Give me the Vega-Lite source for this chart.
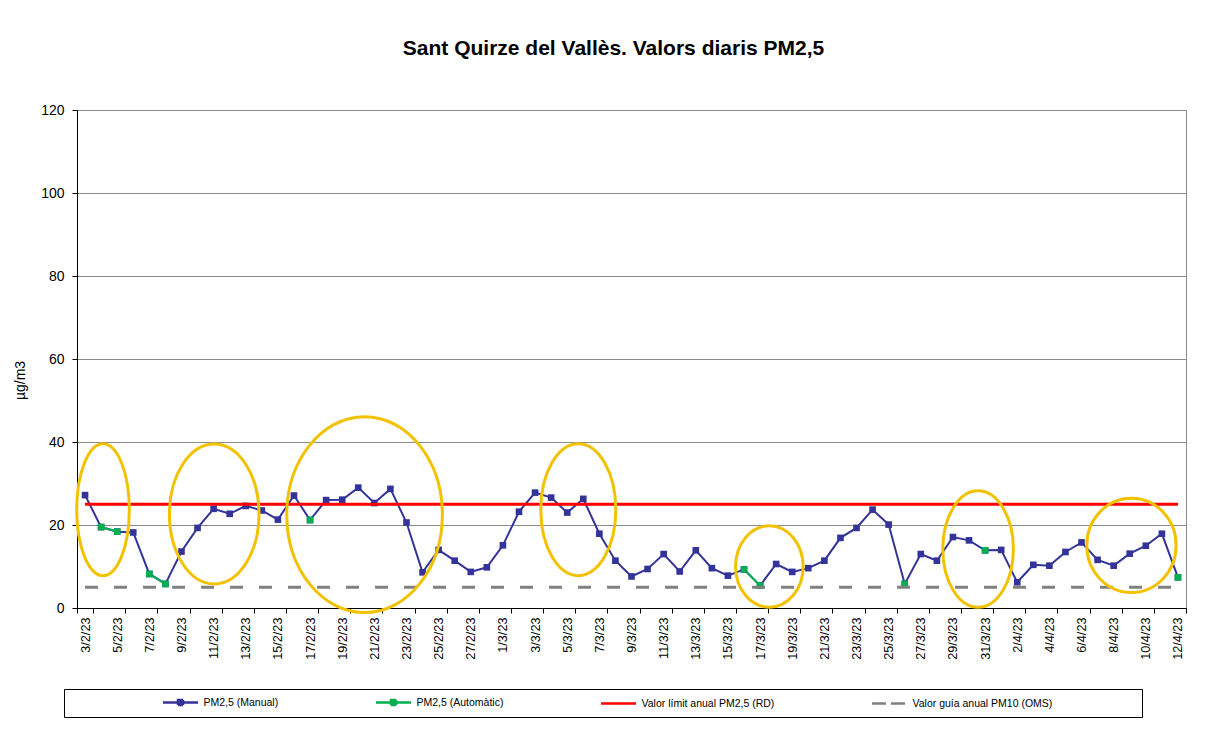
{
  "$schema": "https://vega.github.io/schema/vega-lite/v6.json",
  "width": 1109,
  "height": 498,
  "autosize": {"type": "none"},
  "padding": {"left": 77, "top": 110, "right": 26, "bottom": 130},
  "background": "white",
  "title": {"text": "Sant Quirze del Vallès. Valors diaris PM2,5", "font": "Liberation Sans", "fontSize": 21, "fontWeight": "bold", "color": "#000000", "anchor": "middle", "dx": -18, "offset": 44},
  "config": {
    "view": {"stroke": "#8a8a8a", "strokeWidth": 1},
    "axis": {"labelFont": "Liberation Sans", "titleFont": "Liberation Sans", "labelColor": "#000000", "titleColor": "#000000", "domainColor": "#000000", "tickColor": "#000000"}
  },
  "datasets": {
    "pm": [
      {"date": "3/2/23", "manual": 27.2, "automatic": null},
      {"date": "4/2/23", "manual": 19.5, "automatic": 19.5},
      {"date": "5/2/23", "manual": 18.4, "automatic": 18.4},
      {"date": "6/2/23", "manual": 18.2, "automatic": null},
      {"date": "7/2/23", "manual": 8.2, "automatic": 8.2},
      {"date": "8/2/23", "manual": 5.8, "automatic": 5.8},
      {"date": "9/2/23", "manual": 13.6, "automatic": null},
      {"date": "10/2/23", "manual": 19.3, "automatic": null},
      {"date": "11/2/23", "manual": 23.9, "automatic": null},
      {"date": "12/2/23", "manual": 22.7, "automatic": null},
      {"date": "13/2/23", "manual": 24.6, "automatic": null},
      {"date": "14/2/23", "manual": 23.5, "automatic": null},
      {"date": "15/2/23", "manual": 21.3, "automatic": null},
      {"date": "16/2/23", "manual": 27.1, "automatic": null},
      {"date": "17/2/23", "manual": 21.2, "automatic": 21.2},
      {"date": "18/2/23", "manual": 26.0, "automatic": null},
      {"date": "19/2/23", "manual": 26.1, "automatic": null},
      {"date": "20/2/23", "manual": 29.0, "automatic": null},
      {"date": "21/2/23", "manual": 25.3, "automatic": null},
      {"date": "22/2/23", "manual": 28.7, "automatic": null},
      {"date": "23/2/23", "manual": 20.6, "automatic": null},
      {"date": "24/2/23", "manual": 8.6, "automatic": null},
      {"date": "25/2/23", "manual": 14.0, "automatic": null},
      {"date": "26/2/23", "manual": 11.4, "automatic": null},
      {"date": "27/2/23", "manual": 8.7, "automatic": null},
      {"date": "28/2/23", "manual": 9.8, "automatic": null},
      {"date": "1/3/23", "manual": 15.1, "automatic": null},
      {"date": "2/3/23", "manual": 23.2, "automatic": null},
      {"date": "3/3/23", "manual": 27.8, "automatic": null},
      {"date": "4/3/23", "manual": 26.6, "automatic": null},
      {"date": "5/3/23", "manual": 23.0, "automatic": null},
      {"date": "6/3/23", "manual": 26.3, "automatic": null},
      {"date": "7/3/23", "manual": 17.9, "automatic": null},
      {"date": "8/3/23", "manual": 11.4, "automatic": null},
      {"date": "9/3/23", "manual": 7.6, "automatic": null},
      {"date": "10/3/23", "manual": 9.4, "automatic": null},
      {"date": "11/3/23", "manual": 13.0, "automatic": null},
      {"date": "12/3/23", "manual": 8.8, "automatic": null},
      {"date": "13/3/23", "manual": 13.9, "automatic": null},
      {"date": "14/3/23", "manual": 9.6, "automatic": null},
      {"date": "15/3/23", "manual": 7.8, "automatic": null},
      {"date": "16/3/23", "manual": 9.3, "automatic": 9.3},
      {"date": "17/3/23", "manual": 5.4, "automatic": 5.4},
      {"date": "18/3/23", "manual": 10.6, "automatic": null},
      {"date": "19/3/23", "manual": 8.7, "automatic": null},
      {"date": "20/3/23", "manual": 9.6, "automatic": null},
      {"date": "21/3/23", "manual": 11.4, "automatic": null},
      {"date": "22/3/23", "manual": 16.9, "automatic": null},
      {"date": "23/3/23", "manual": 19.3, "automatic": null},
      {"date": "24/3/23", "manual": 23.7, "automatic": null},
      {"date": "25/3/23", "manual": 20.1, "automatic": null},
      {"date": "26/3/23", "manual": 5.8, "automatic": 5.8},
      {"date": "27/3/23", "manual": 13.0, "automatic": null},
      {"date": "28/3/23", "manual": 11.4, "automatic": null},
      {"date": "29/3/23", "manual": 17.1, "automatic": null},
      {"date": "30/3/23", "manual": 16.3, "automatic": null},
      {"date": "31/3/23", "manual": 13.9, "automatic": 13.9},
      {"date": "1/4/23", "manual": 14.0, "automatic": null},
      {"date": "2/4/23", "manual": 6.2, "automatic": null},
      {"date": "3/4/23", "manual": 10.4, "automatic": null},
      {"date": "4/4/23", "manual": 10.2, "automatic": null},
      {"date": "5/4/23", "manual": 13.5, "automatic": null},
      {"date": "6/4/23", "manual": 15.8, "automatic": null},
      {"date": "7/4/23", "manual": 11.6, "automatic": null},
      {"date": "8/4/23", "manual": 10.2, "automatic": null},
      {"date": "9/4/23", "manual": 13.1, "automatic": null},
      {"date": "10/4/23", "manual": 15.0, "automatic": null},
      {"date": "11/4/23", "manual": 17.9, "automatic": null},
      {"date": "12/4/23", "manual": 7.4, "automatic": 7.4}
    ],
    "notes": [
      {"date": "4/2/23", "level": 23.7, "note": "e1"},
      {"date": "11/2/23", "level": 22.65, "note": "e2"},
      {"date": "20/2/23", "level": 22.5, "note": "e3"},
      {"date": "6/3/23", "level": 23.7, "note": "e4"},
      {"date": "18/3/23", "level": 10.0, "note": "e5"},
      {"date": "31/3/23", "level": 14.2, "note": "e6"},
      {"date": "9/4/23", "level": 15.1, "note": "e7"}
    ]
  },
  "data": {"name": "pm"},
  "encoding": {
    "x": {
      "field": "date", "type": "ordinal", "sort": null,
      "scale": {"type": "band", "paddingInner": 0, "paddingOuter": 0},
      "axis": {
        "title": null,
        "values": ["3/2/23","5/2/23","7/2/23","9/2/23","11/2/23","13/2/23","15/2/23","17/2/23","19/2/23","21/2/23","23/2/23","25/2/23","27/2/23","1/3/23","3/3/23","5/3/23","7/3/23","9/3/23","11/3/23","13/3/23","15/3/23","17/3/23","19/3/23","21/3/23","23/3/23","25/3/23","27/3/23","29/3/23","31/3/23","2/4/23","4/4/23","6/4/23","8/4/23","10/4/23","12/4/23"],
        "labelAngle": 270, "labelFontSize": 12.7, "labelPadding": 4, "labelOverlap": false,
        "tickBand": "extent", "tickSize": 5, "grid": false, "domainWidth": 1
      }
    }
  },
  "layer": [
    {
      "mark": {"type": "line", "strokeWidth": 2},
      "encoding": {
        "y": {
          "field": "manual", "type": "quantitative",
          "scale": {"domain": [0, 120], "nice": false, "zero": true},
          "axis": {
            "values": [0, 20, 40, 60, 80, 100, 120], "grid": true, "gridColor": "#8a8a8a", "gridWidth": 1,
            "tickSize": 5, "labelFontSize": 14, "labelPadding": 8,
            "title": "µg/m3", "titleFontSize": 14, "titleFontWeight": "normal",
            "titleAngle": 270, "titleX": -57, "titleY": 270, "titleAlign": "center", "titleBaseline": "middle"
          }
        },
        "color": {
          "datum": "PM2,5 (Manual)",
          "scale": {
            "domain": ["PM2,5 (Manual)", "PM2,5 (Automàtic)", "Valor límit anual PM2,5 (RD)", "Valor guía anual PM10 (OMS)"],
            "range": ["#333399", "#00B050", "#FF0000", "#808080"]
          },
          "legend": {
            "title": "\u00a0", "titleOrient": "left", "titlePadding": 103,
            "orient": "none", "legendX": -13, "legendY": 579,
            "direction": "horizontal", "columns": 4, "columnPadding": 92,
            "strokeColor": "#000000", "fillColor": "#ffffff", "padding": 7,
            "labelFont": "Liberation Sans", "labelFontSize": 10.5, "labelColor": "#000000", "labelOffset": 16.5, "labelLimit": 800,
            "symbolSize": 100, "symbolStrokeWidth": 2.5,
            "labelExpr": "datum.value == 'Valor guía anual PM10 (OMS)' ? datum.label + '\u00a0\u00a0\u00a0\u00a0\u00a0\u00a0\u00a0\u00a0\u00a0\u00a0\u00a0\u00a0\u00a0\u00a0\u00a0\u00a0\u00a0\u00a0\u00a0\u00a0\u00a0\u00a0\u00a0\u00a0\u00a0\u00a0\u00a0\u00a0\u200b' : datum.label",
            "encode": {
              "symbols": {
                "update": {
                  "shape": {"signal": "(datum.value == 'PM2,5 (Manual)' || datum.value == 'PM2,5 (Automàtic)') ? 'M-3.5,0H3.5M-0.5,-0.5H0.5V0.5H-0.5Z' : 'M-3.5,0H3.5'"},
                  "fill": {"signal": "(datum.value == 'PM2,5 (Manual)' || datum.value == 'PM2,5 (Automàtic)') ? scale('color', datum.value) : 'transparent'"},
                  "stroke": {"signal": "scale('color', datum.value)"},
                  "strokeDash": {"signal": "datum.value == 'Valor guía anual PM10 (OMS)' ? [14, 5] : [1, 0]"},
                  "strokeWidth": {"value": 2.5},
                  "opacity": {"value": 1},
                  "fillOpacity": {"value": 1}
                }
              }
            }
          }
        }
      }
    },
    {
      "mark": {"type": "point", "shape": "square", "filled": true, "size": 44, "opacity": 1},
      "encoding": {
        "y": {"field": "manual", "type": "quantitative"},
        "color": {"datum": "PM2,5 (Manual)"}
      }
    },
    {
      "mark": {"type": "line", "strokeWidth": 2, "invalid": "break-paths-filter-domains"},
      "encoding": {
        "y": {"field": "automatic", "type": "quantitative"},
        "color": {"datum": "PM2,5 (Automàtic)"}
      }
    },
    {
      "mark": {"type": "point", "shape": "square", "filled": true, "size": 44, "opacity": 1},
      "encoding": {
        "y": {"field": "automatic", "type": "quantitative"},
        "color": {"datum": "PM2,5 (Automàtic)"}
      }
    },
    {
      "mark": {"type": "line", "strokeWidth": 3},
      "encoding": {
        "y": {"datum": 25, "type": "quantitative"},
        "color": {"datum": "Valor límit anual PM2,5 (RD)"}
      }
    },
    {
      "mark": {"type": "line", "strokeWidth": 3, "strokeDash": [13, 16]},
      "encoding": {
        "y": {"datum": 5, "type": "quantitative"},
        "color": {"datum": "Valor guía anual PM10 (OMS)"}
      }
    },
    {
      "data": {"name": "notes"},
      "mark": {"type": "point", "filled": false, "size": 40000, "stroke": "#F2C200", "strokeWidth": 3, "opacity": 1},
      "encoding": {
        "x": {"field": "date", "type": "ordinal", "sort": null},
        "y": {"field": "level", "type": "quantitative"},
        "shape": {
          "field": "note", "type": "nominal", "legend": null,
          "scale": {
            "domain": ["e1", "e2", "e3", "e4", "e5", "e6", "e7"],
            "range": [
              "M0.282,0C0.282,0.365 0.164,0.66 0.019,0.66C-0.126,0.66 -0.244,0.365 -0.244,0C-0.244,-0.365 -0.126,-0.66 0.019,-0.66C0.164,-0.66 0.282,-0.365 0.282,0Z",
              "M0.454,0C0.454,0.387 0.253,0.7 0.006,0.7C-0.241,0.7 -0.442,0.387 -0.442,0C-0.442,-0.387 -0.241,-0.7 0.006,-0.7C0.253,-0.7 0.454,-0.387 0.454,0Z",
              "M0.841,0C0.841,0.541 0.493,0.98 0.063,0.98C-0.367,0.98 -0.715,0.541 -0.715,0C-0.715,-0.541 -0.367,-0.98 0.063,-0.98C0.493,-0.98 0.841,-0.541 0.841,0Z",
              "M0.325,0C0.325,0.365 0.157,0.66 -0.05,0.66C-0.257,0.66 -0.425,0.365 -0.425,0C-0.425,-0.365 -0.257,-0.66 -0.05,-0.66C0.157,-0.66 0.325,-0.365 0.325,0Z",
              "M0.27,0C0.27,0.225 0.119,0.407 -0.068,0.407C-0.255,0.407 -0.406,0.225 -0.406,0C-0.406,-0.225 -0.255,-0.407 -0.068,-0.407C0.119,-0.407 0.27,-0.225 0.27,0Z",
              "M0.283,0C0.283,0.321 0.125,0.582 -0.07,0.582C-0.265,0.582 -0.423,0.321 -0.423,0C-0.423,-0.321 -0.265,-0.582 -0.07,-0.582C0.125,-0.582 0.283,-0.321 0.283,0Z",
              "M0.464,0C0.464,0.261 0.264,0.472 0.017,0.472C-0.23,0.472 -0.43,0.261 -0.43,0C-0.43,-0.261 -0.23,-0.472 0.017,-0.472C0.264,-0.472 0.464,-0.261 0.464,0Z"
            ]
          }
        }
      }
    }
  ]
}
